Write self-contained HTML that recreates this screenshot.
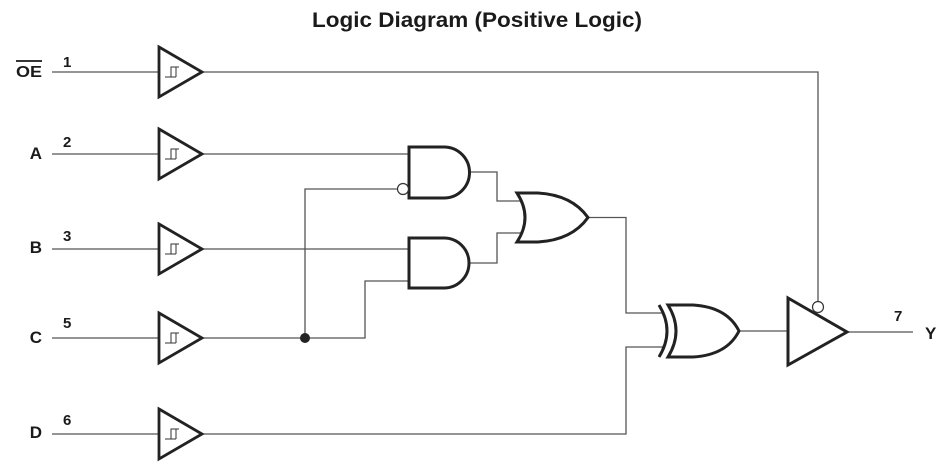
<!DOCTYPE html>
<html><head><meta charset="utf-8"><style>
html,body{margin:0;padding:0;background:#fff;}
svg{display:block;}
text{font-family:"Liberation Sans",Arial,sans-serif;font-weight:bold;fill:#1a1a1a;}
</style></head><body>
<svg width="952" height="475" viewBox="0 0 952 475" xmlns="http://www.w3.org/2000/svg">
<text x="477" y="27" font-size="21" text-anchor="middle" textLength="330" lengthAdjust="spacingAndGlyphs">Logic Diagram (Positive Logic)</text>

<!-- input labels -->
<text x="42" y="77" font-size="16" text-anchor="end" textLength="26" lengthAdjust="spacingAndGlyphs">OE</text>
<line x1="16" y1="61" x2="42" y2="61" stroke="#1a1a1a" stroke-width="1.8"/>
<text x="42" y="159" font-size="17" text-anchor="end">A</text>
<text x="42" y="253" font-size="17" text-anchor="end">B</text>
<text x="42" y="343" font-size="17" text-anchor="end">C</text>
<text x="42" y="438" font-size="17" text-anchor="end">D</text>
<text x="63" y="67" font-size="15">1</text>
<text x="63" y="147" font-size="15">2</text>
<text x="63" y="241" font-size="15">3</text>
<text x="63" y="328" font-size="15">5</text>
<text x="63" y="425" font-size="15">6</text>
<text x="894" y="321" font-size="15">7</text>
<text x="925" y="339" font-size="17">Y</text>

<!-- wires -->
<g stroke="#555" stroke-width="1.3" fill="none">
<path d="M52,72H159M202,72H818V302"/>
<path d="M52,154H159M202,154H409"/>
<path d="M52,249H159M202,249H409"/>
<path d="M52,338H159M202,338H365V281H409"/>
<path d="M305,338V189H398"/>
<path d="M52,434H159M202,434H626V347H664"/>
<path d="M469,172H497V201H522"/>
<path d="M469,263H497V233H522"/>
<path d="M588,217.5H626V313H664"/>
<path d="M739,331H788"/>
<path d="M847,332H913"/>
</g>
<circle cx="305" cy="338" r="5" fill="#222"/>

<!-- input buffers -->
<g stroke="#222" stroke-width="2.8" fill="#fff" stroke-linejoin="miter">
<path d="M159,47L202,72L159,97Z"/>
<path d="M159,129L202,154L159,179Z"/>
<path d="M159,224L202,249L159,274Z"/>
<path d="M159,313L202,338L159,363Z"/>
<path d="M159,409L202,434L159,459Z"/>
</g>
<g stroke="#333" stroke-width="1" fill="none">
<path d="M165,77H176M171,77V67H179M176,67V77"/>
<path d="M165,159H176M171,159V149H179M176,149V159"/>
<path d="M165,254H176M171,254V244H179M176,244V254"/>
<path d="M165,343H176M171,343V333H179M176,333V343"/>
<path d="M165,439H176M171,439V429H179M176,429V439"/>
</g>

<!-- AND gates -->
<g stroke="#222" stroke-width="3" fill="#fff">
<path d="M409,147H444A25.5,25.5 0 0 1 444,198H409Z"/>
<path d="M409,238H444A25,25 0 0 1 444,288H409Z"/>
<!-- OR -->
<path d="M517,193H538Q572,195 588,217.5Q572,240 538,242H517Q533,217.5 517,193Z"/>
<!-- XOR -->
<path d="M668,305H693Q727,307 739,331Q727,355 693,357H668Q684,331 668,305Z"/>
<path d="M659,305Q675,331 659,357" fill="none"/>
<!-- output buffer -->
<path d="M788,298L847,332L788,365Z"/>
</g>
<circle cx="403" cy="189" r="5.5" fill="#fff" stroke="#333" stroke-width="1.2"/>
<circle cx="818" cy="307" r="5.5" fill="#fff" stroke="#333" stroke-width="1.2"/>
</svg>
</body></html>
